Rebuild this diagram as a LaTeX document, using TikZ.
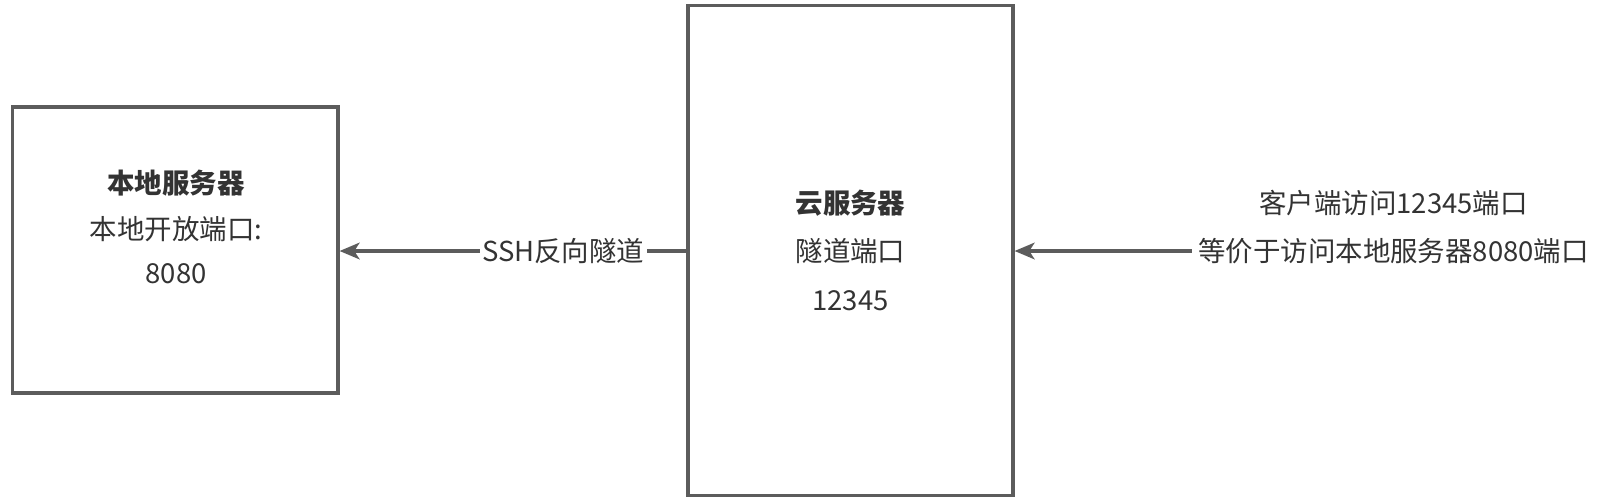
\documentclass[tikz,border=0pt]{standalone}
\usepackage{fontspec}
\setmainfont{Noto Sans CJK SC}
\usetikzlibrary{arrows.meta}
\definecolor{strokegray}{HTML}{5C5C5C}
\definecolor{textgray}{HTML}{333333}
\begin{document}
\begin{tikzpicture}[x=0.75pt,y=-0.75pt,
  server/.style={draw=strokegray,line width=2.4pt,fill=white,inner sep=0pt},
  txt/.style={text=textgray,inner sep=4.5pt,font=\fontsize{20.6pt}{24pt}\selectfont},
  boldtxt/.style={txt,font=\fontsize{20.6pt}{24pt}\selectfont\bfseries},
  conn/.style={draw=strokegray,line width=2.4pt,-{Stealth[length=15pt,width=12.5pt,inset=4pt]}},
  lbl/.style={txt,fill=white,inner sep=2pt}]
\useasboundingbox (0,0) rectangle (1610,500);
% boxes
\node[server,minimum width=325.5*0.75pt,minimum height=286*0.75pt] (local) at (175.25,250) {};
\node[server,minimum width=325*0.75pt,minimum height=489.5*0.75pt] (cloud) at (850.5,250.5) {};
% local box texts
\node[boldtxt] (localtitle) at (176,183) {本地服务器};
\node[txt] (localport) at (176,229) {本地开放端口:};
\node[txt] (localnum) at (176,274) {8080};
% cloud box texts
\node[boldtxt] (cloudtitle) at (850.5,203) {云服务器};
\node[txt] (cloudport) at (850.5,251) {隧道端口};
\node[txt] (cloudnum) at (850.5,301) {12345};
% right texts
\node[txt] (client1) at (1393.5,203) {客户端访问12345端口};
\node[txt] (client2) at (1393.5,251) {等价于访问本地服务器8080端口};
% connectors
\draw[conn] (cloud.west |- 0,251) -- node[lbl,pos=0.355] (ssh) {SSH反向隧道} (local.east |- 0,251);
\draw[conn] (client2.west) -- (cloud.east |- client2.west);
\end{tikzpicture}
\end{document}
